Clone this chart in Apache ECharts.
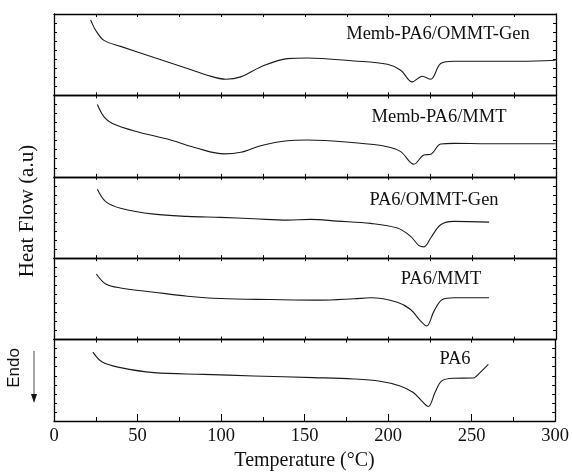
<!DOCTYPE html>
<html>
<head>
<meta charset="utf-8">
<script src="https://cdn.jsdelivr.net/npm/echarts@6/dist/echarts.min.js"></script>
<style>
  html, body { margin: 0; padding: 0; background: #fff; }
  #dscChart { width: 572px; height: 472px; }
</style>
</head>
<body>
<div id="dscChart"></div>
<script>
// DSC curves, top panel first; [temperature °C, heat flow a.u.]
var memb_ommt_gen = [[21.9,8.35],[24.9,7.2],[29.9,6.08],[39.8,5.42],[59.8,4.18],[79.7,2.97],[91.6,2.23],[102.6,1.79],[111.6,2.05],[123.5,3.15],[139.4,4.07],[151.4,4.14],[179.3,3.81],[199.2,3.44],[207.2,2.78],[214.1,1.5],[220.1,2.12],[225.1,1.79],[231.1,3.52],[239,3.77],[259,3.77],[278.9,3.77],[299.8,3.88]];
var memb_mmt = [[25.9,7.99],[29.9,6.63],[34.9,5.9],[49.8,4.98],[69.7,4.07],[85.7,3.15],[101.6,2.53],[111.6,2.71],[123.5,3.44],[139.4,3.99],[151.4,4.07],[179.3,3.77],[199.2,3.33],[207.2,2.78],[215.1,1.39],[221.1,2.42],[225.1,2.49],[231.1,3.63],[239,3.7],[259,3.66],[299.8,3.66]];
var pa6_ommt_gen = [[25.9,7.62],[30.9,6.26],[39.8,5.53],[59.8,4.87],[79.7,4.62],[99.6,4.51],[119.5,4.36],[139.4,4.21],[153.4,4.29],[169.3,4.1],[189.2,3.85],[205.2,3.33],[213.1,2.42],[218.1,1.39],[221.1,1.25],[225.1,2.23],[231.1,3.7],[239,4.07],[260,3.99]];
var pa6_mmt = [[25.3,7.25],[30.9,6.15],[39.8,5.71],[59.8,5.24],[79.7,4.8],[99.6,4.54],[129.5,4.43],[159.4,4.36],[179.3,4.51],[189.2,4.62],[205.2,4.14],[213.1,3.33],[219.1,2.05],[222.7,1.5],[227.1,3.15],[232.1,4.43],[239,4.62],[260,4.62]];
var pa6 = [[23.3,7.62],[28.9,6.52],[39.8,5.9],[59.8,5.35],[89.6,5.16],[119.5,4.98],[155.4,4.8],[179.3,4.65],[195.2,4.4],[207.2,3.88],[215.1,3.15],[220.1,2.23],[224.1,1.61],[228.1,3.15],[232.1,4.43],[239,4.73],[251,4.76],[255,5.35],[260,6.26]];

var curves = [memb_ommt_gen, memb_mmt, pa6_ommt_gen, pa6_mmt, pa6];
var names = ['Memb-PA6/OMMT-Gen', 'Memb-PA6/MMT', 'PA6/OMMT-Gen', 'PA6/MMT', 'PA6'];

var serif = 'Times New Roman, Liberation Serif, serif';
var panelH = 81.4;
var grids = [], xAxes = [], yAxes = [], series = [];

curves.forEach(function (d, i) {
  var last = i === curves.length - 1;
  grids.push({ left: 54, right: 16, top: 14 + i * panelH, height: panelH });
  // bottom x axis
  xAxes.push({
    type: 'value', gridIndex: i, min: 0, max: 300,
    interval: last ? 50 : 25,
    axisLine: { show: true, onZero: false, lineStyle: { color: '#000', width: 1.3 } },
    axisTick: { show: true, inside: true, length: last ? 7 : 3, lineStyle: { color: '#000' } },
    minorTick: { show: last, splitNumber: 2, length: 4, lineStyle: { color: '#000' } },
    axisLabel: { show: last, fontFamily: serif, fontSize: 18.5, color: '#111', margin: 6 },
    splitLine: { show: false },
    name: last ? 'Temperature (\u00B0C)' : '',
    nameLocation: 'middle', nameGap: 30,
    nameTextStyle: { fontFamily: serif, fontSize: 20, color: '#111' }
  });
  // top x axis (ticks only)
  xAxes.push({
    type: 'value', gridIndex: i, position: 'top', min: 0, max: 300, interval: 25,
    axisLine: { show: true, onZero: false, lineStyle: { color: '#000', width: 1.3 } },
    axisTick: { show: true, inside: true, length: 3, lineStyle: { color: '#000' } },
    axisLabel: { show: false }, splitLine: { show: false }
  });
  ['left', 'right'].forEach(function (pos) {
    yAxes.push({
      type: 'value', gridIndex: i, position: pos, min: 0, max: 9, interval: 1,
      axisLine: { show: true, onZero: false, lineStyle: { color: '#000', width: 1.3 } },
      axisTick: { show: true, inside: true, length: 3, lineStyle: { color: '#000' } },
      axisLabel: { show: false }, splitLine: { show: false }
    });
  });
  series.push({
    name: names[i], type: 'line', xAxisIndex: 2 * i, yAxisIndex: 2 * i,
    data: d, smooth: 0.35, symbol: 'none',
    lineStyle: { color: '#1a1a1a', width: 1.1 }
  });
});

// curve labels
var labelPos = [[438, 34], [439, 117], [434, 200], [441, 279], [455, 359]];
var graphics = names.map(function (n, i) {
  return {
    type: 'text', x: labelPos[i][0], y: labelPos[i][1],
    style: { text: n, font: '18.5px ' + serif, fill: '#111', align: 'center', verticalAlign: 'middle' }
  };
});
graphics.push({
  type: 'text', x: 27, y: 211, rotation: Math.PI / 2,
  style: { text: 'Heat Flow (a.u)', font: '21px ' + serif, fill: '#111', align: 'center', verticalAlign: 'middle' }
});
graphics.push({
  type: 'text', x: 14, y: 368, rotation: Math.PI / 2,
  style: { text: 'Endo', font: '17px Liberation Sans, Arial, sans-serif', fill: '#111', align: 'center', verticalAlign: 'middle' }
});
graphics.push({
  type: 'line', shape: { x1: 34, y1: 351, x2: 34, y2: 396 },
  style: { stroke: '#888', lineWidth: 1.5 }
});
graphics.push({
  type: 'polygon', shape: { points: [[31, 394], [37, 394], [34, 403]] },
  style: { fill: '#111' }
});

var chart = echarts.init(document.getElementById('dscChart'));
chart.setOption({
  animation: false,
  backgroundColor: '#fff',
  grid: grids,
  xAxis: xAxes,
  yAxis: yAxes,
  series: series,
  graphic: graphics
});
</script>
</body>
</html>
